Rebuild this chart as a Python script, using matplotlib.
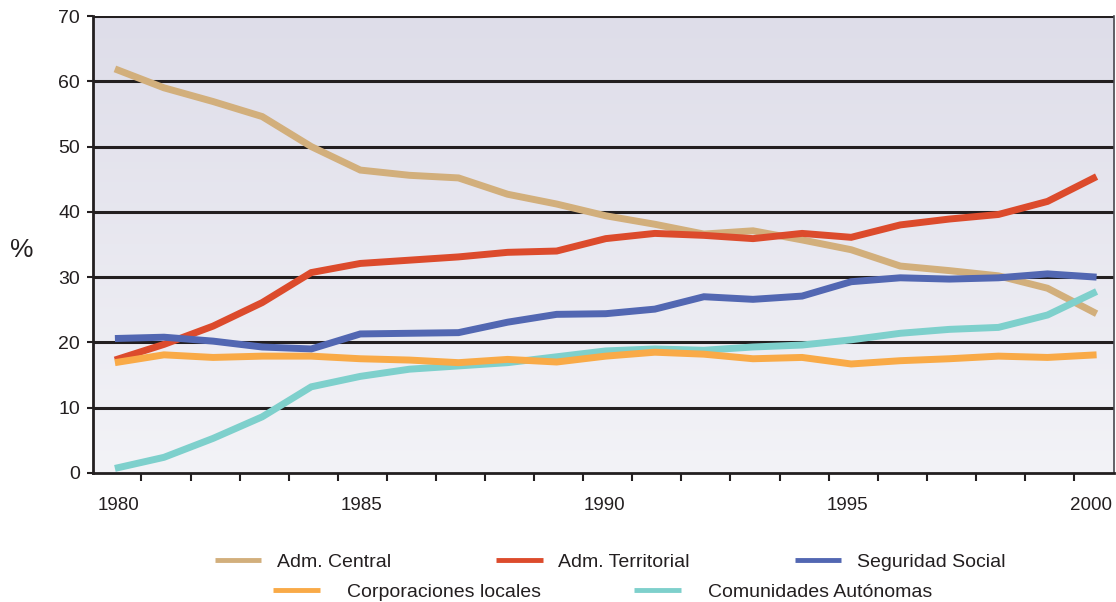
import matplotlib
matplotlib.use("Agg")
import matplotlib.pyplot as plt
import numpy as np
from matplotlib.ticker import FixedLocator, NullFormatter

plt.rcParams['font.family'] = ['Liberation Sans', 'DejaVu Sans']

# Data
years = list(range(1980, 2001))
adm_central = [61.9, 59.0, 56.9, 54.6, 50.0, 46.4, 45.6, 45.2, 42.7, 41.2, 39.4,
               38.1, 36.6, 37.1, 35.7, 34.2, 31.7, 31.0, 30.2, 28.3, 24.4]
adm_territorial = [17.3, 19.7, 22.5, 26.1, 30.7, 32.1, 32.6, 33.1, 33.8, 34.0, 35.9,
                   36.7, 36.4, 35.9, 36.7, 36.1, 38.0, 38.9, 39.6, 41.6, 45.4]
seguridad_social = [20.6, 20.8, 20.2, 19.3, 19.0, 21.3, 21.4, 21.5, 23.1, 24.3, 24.4,
                    25.1, 27.0, 26.6, 27.1, 29.3, 29.9, 29.7, 29.9, 30.5, 30.0]
corporaciones = [16.9, 18.1, 17.7, 17.9, 17.9, 17.5, 17.3, 16.9, 17.4, 17.0, 17.9,
                 18.5, 18.2, 17.5, 17.7, 16.7, 17.2, 17.5, 17.9, 17.7, 18.1]
comunidades = [0.7, 2.4, 5.3, 8.6, 13.2, 14.8, 15.9, 16.4, 16.9, 17.8, 18.7,
               19.0, 18.8, 19.3, 19.6, 20.4, 21.4, 22.0, 22.3, 24.2, 27.8]

labels = ['Adm. Central', 'Adm. Territorial', 'Seguridad Social',
          'Corporaciones locales', 'Comunidades Autónomas']
colors = ['#D2AF7C', '#DC4B2C', '#5267B2', '#F9AA47', '#7ED0CC']
year_labels = [1980, 1985, 1990, 1995, 2000]

fig = plt.figure(figsize=(11.16, 6.02), dpi=100)
ax = fig.add_axes([0.083, 0.2143, 0.915, 0.7591])

x0, x1 = 1979.546, 2000.35

# gradient background
grad = np.linspace(0, 1, 256).reshape(-1, 1, 1)
top = np.array([222, 221, 233]) / 255
bottom = np.array([243, 243, 247]) / 255
img = top + (bottom - top) * grad
ax.imshow(img, extent=[x0, x1, 0, 70], aspect='auto', origin='upper', zorder=0)

ax.set_xlim(x0, x1)
ax.set_ylim(0, 70)

for y in range(10, 80, 10):
    ax.axhline(y, color='#231f20', lw=2.2, zorder=1)

series = [adm_central, adm_territorial, seguridad_social, corporaciones, comunidades]
zorders = [2, 3, 4, 6, 5]
handles = []
for vals, lab, col, z in zip(series, labels, colors, zorders):
    h, = ax.plot(years, vals, color=col, lw=5, label=lab, zorder=z,
                 solid_capstyle='butt', solid_joinstyle='miter')
    handles.append(h)

# axes styling
for side in ['left', 'bottom']:
    ax.spines[side].set_linewidth(2)
    ax.spines[side].set_color('#231f20')
ax.spines['top'].set_visible(False)
ax.spines['right'].set_linewidth(1.2)
ax.spines['right'].set_color('#4a4a50')

ax.set_yticks(range(0, 80, 10))
ax.tick_params(axis='y', length=4, width=1.5, color='#231f20', labelsize=14,
               labelcolor='#231f20', pad=5)

# year labels sit slightly compressed relative to the data grid, as in the original
label_pos = [1980.075 + (y - 1980) * 0.9905 for y in year_labels]
ax.set_xticks(label_pos)
ax.set_xticklabels([str(y) for y in year_labels])
ax.xaxis.set_minor_locator(FixedLocator([y + 0.54 for y in years[:-1]]))
ax.xaxis.set_minor_formatter(NullFormatter())
ax.tick_params(axis='x', which='major', length=0, labelsize=13.5,
               labelcolor='#231f20', pad=17)
ax.tick_params(axis='x', which='minor', length=6, width=1.5, color='#231f20')

ax.set_ylabel('%', rotation=0, fontsize=19, color='#231f20')
ax.yaxis.set_label_coords(-0.069, 0.462)

# legend in two rows
leg1 = fig.legend(handles=handles[:3], loc='center', bbox_to_anchor=(0.5466, 1 - 562 / 602),
                  ncol=3, frameon=False, fontsize=14, handlelength=2.4,
                  handletextpad=0.8, columnspacing=5.4)
leg2 = fig.legend(handles=handles[3:], loc='center', bbox_to_anchor=(0.540, 1 - 592 / 602),
                  ncol=2, frameon=False, fontsize=14, handlelength=2.4,
                  handletextpad=1.4, columnspacing=4.8)
for leg in (leg1, leg2):
    for t in leg.get_texts():
        t.set_color('#231f20')
    for l in leg.get_lines():
        l.set_linewidth(3.5)

fig.savefig('out.png', dpi=100)
